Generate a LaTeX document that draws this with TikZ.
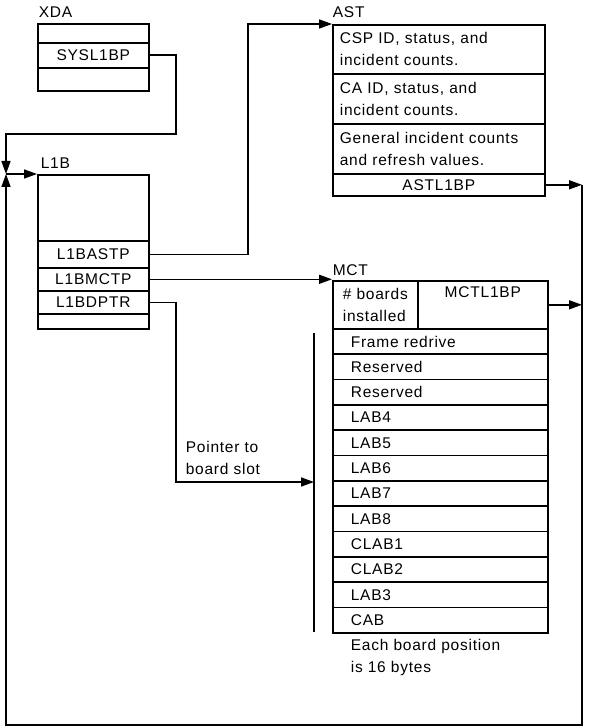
\documentclass[tikz,border=0pt]{standalone}
\usepackage{fontspec}
\setmainfont{Liberation Sans}[LetterSpace=5]
\usetikzlibrary{arrows.meta}
\begin{document}
\begin{tikzpicture}[x=1pt,y=-1pt,line width=1.6pt,
  font=\fontsize{15.5}{22}\selectfont,
  cell/.style n args={2}{draw,anchor=north west,inner sep=0pt,minimum width=#1,minimum height=#2},
  astrow/.style={draw,anchor=north west,inner xsep=7pt,inner ysep=0pt,text width=198pt,align=left,minimum height=#1},
  mctrow/.style={draw,anchor=north west,inner xsep=18pt,inner ysep=0pt,text width=179pt,align=left,minimum height=25.33pt},
  txt/.style={anchor=west,inner sep=0pt,align=left},
  lbl/.style={anchor=base west,inner sep=0pt},
  arr/.style={-{Triangle[length=13pt,width=9pt]}}]
\useasboundingbox (0,0) rectangle (589,727);
\node[lbl] (xdalbl) at (38,18) {XDA};
\node[cell={111pt}{19pt}] (xda0) at (37,23) {};
\node[cell={111pt}{25pt}] (sysl) at (37,42) {SYSL1BP};
\node[cell={111pt}{23pt}] (xda2) at (37,67) {};
\node[lbl] (l1blbl) at (40,169) {L1B};
\node[cell={111pt}{66pt}] (l1b0) at (37,174) {};
\node[cell={111pt}{27pt}] (astp) at (37,240) {L1BASTP};
\node[cell={111pt}{23pt}] (mctp) at (37,267) {L1BMCTP};
\node[cell={111pt}{23pt}] (dptr) at (37,290) {L1BDPTR};
\node[cell={111pt}{15pt}] (l1b4) at (37,313) {};
\node[lbl] (astlbl) at (332,18) {AST};
\node[astrow=49pt] (ast0) at (332,24) {CSP ID, status, and\\incident counts.};
\node[astrow=50pt] (ast1) at (332,73) {CA ID, status, and\\incident counts.};
\node[astrow=50pt] (ast2) at (332,123) {General incident counts\\and refresh values.};
\node[cell={212pt}{22pt}] (astl) at (332,173) {ASTL1BP};
\node[lbl] (mctlbl) at (332,275) {MCT};
\node[cell={85pt}{48pt},align=left] (mct0) at (332,280) {\# boards\\installed};
\node[cell={130pt}{48pt}] (mctl) at (417,280) {};
\node[anchor=north,inner sep=0pt] (mcttxt) at ([yshift=-6pt]mctl.north) {MCTL1BP};
\foreach \t [count=\i from 0] in {Frame redrive,Reserved,Reserved,LAB4,LAB5,LAB6,LAB7,LAB8,CLAB1,CLAB2,LAB3,CAB}
  \node[mctrow] (m\i) at (332,{328+25.33*\i}) {\t};
\node[txt] (sizetxt) at (350,657) {Each board position\\is 16 bytes};
\node[txt] (ptrtxt) at (185,458) {Pointer to\\board slot};
\coordinate (join) at (6,174);
\coordinate (xdabend) at (176,134);
\coordinate (astbend) at (248,24);
\coordinate (dpbend) at (176,482);
\coordinate (slot) at (314,482);
\coordinate (bartop) at (314,333);
\coordinate (barbot) at (314,632);
\coordinate (rbot) at (582,725);
\coordinate (lbot) at (6,725);
\draw[arr] (sysl.east) -| (xdabend) -| (join);
\draw[arr] (join) -- (l1b0.north west);
\draw[arr] (astp.east) -| (astbend) -- (ast0.north west);
\draw[arr] (mctp.east) -- (mctp.east -| mct0.west);
\draw[arr] (dptr.east) -| (dpbend) -- (slot);
\draw (bartop) -- (barbot);
\draw[arr] (astl.east) -- (astl.east -| rbot);
\draw[arr] (mctl.east) -- (mctl.east -| rbot);
\draw[arr] (astl.east -| rbot) -- (rbot) -- (lbot) -- (join);
\end{tikzpicture}
\end{document}
